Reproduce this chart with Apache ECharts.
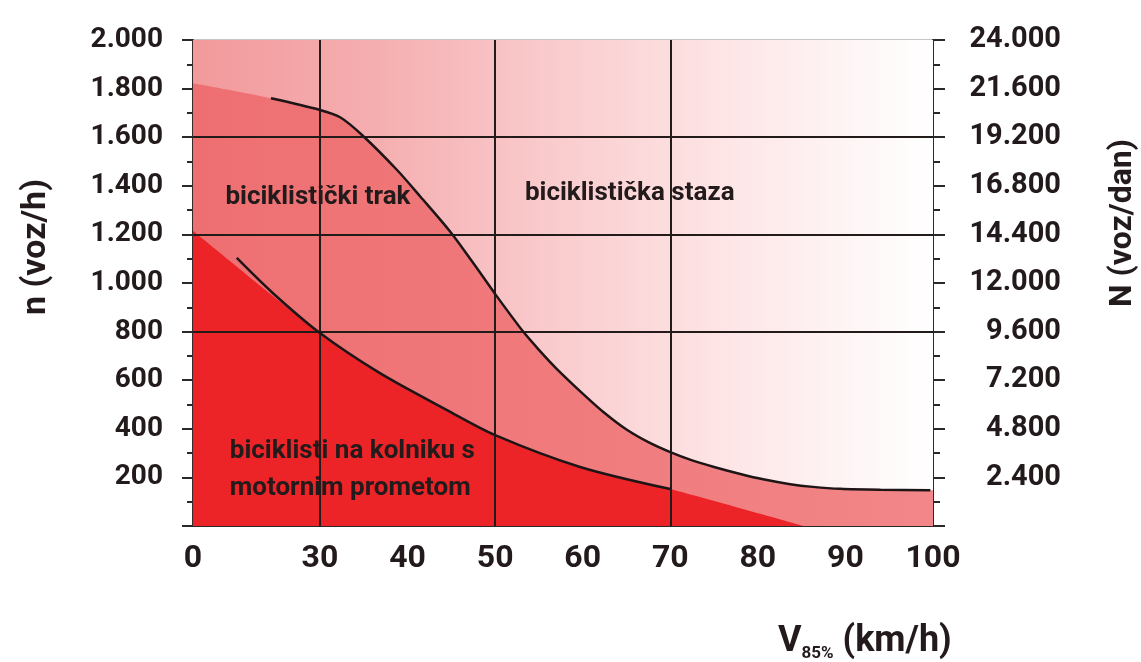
<!DOCTYPE html>
<html>
<head>
<meta charset="utf-8">
<script src="https://cdn.jsdelivr.net/npm/echarts@6/dist/echarts.min.js"></script>
<style>
html,body{margin:0;padding:0;background:#ffffff;}
#chart{width:1141px;height:662px;}
</style>
</head>
<body>
<div id="chart"></div>
<script>
// ---- data ----
const XMIN = 15.5;                 // left edge of the (broken) speed axis, labelled "0"
const xLabelValues = [XMIN, 30, 40, 50, 60, 70, 80, 90, 100];
const vGrid = [30, 50, 70];
const hGrid = [800, 1200, 1600];

// upper black curve: bicycle lane / bicycle path boundary
const upperV = [24.4, 30, 32.3, 34.8, 38.8, 41.5, 44.9, 47.5, 50, 53.2, 55, 57, 60, 62.5, 65, 67.5, 70, 72.5, 75, 78, 80.6, 83.7, 86.3, 89.4, 94, 99.7];
const upperN = [1760, 1712, 1682, 1609, 1465, 1354, 1210, 1082, 955, 800, 725, 648, 545, 465, 397, 345, 304, 270, 243, 214, 192, 172, 161, 153, 149, 147];

// lower black curve: mixed traffic / bicycle lane boundary
const lowerV = [20.5, 24.6, 30, 36.8, 44.5, 50, 59.7, 70];
const lowerN = [1103, 959, 794, 630, 477, 374, 243, 152];

// shaded zone edges
const midV = [XMIN, 19.7].concat(upperV, [100]);
const midN = [1822, 1794].concat(upperN, [147]);
const redV = [XMIN, 30, 36.8, 44.5, 50, 59.7, 70, 85.2];
const redN = [1215, 794, 630, 477, 374, 243, 152, 0];

// zone labels
const noteV = [19.2, 53.4, 19.7];
const noteN = [1350, 1370, 232];
const noteText = ['biciklistički trak', 'biciklistička staza', 'biciklisti na kolniku s\nmotornim prometom'];

const FONT = "Roboto, 'Liberation Sans', sans-serif";
const INK = '#221a1b';

function pairs(xs, ys) { return xs.map((x, i) => [x, ys[i]]); }
function dots(v) { return String(v).replace(/\B(?=(\d{3})+(?!\d))/g, '.'); }

const chart = echarts.init(document.getElementById('chart'), null, {renderer: 'canvas'});

const SMOOTH = 0.3;

const option = {
  animation: false,
  backgroundColor: '#ffffff',
  grid: {left: 193, right: 208, top: 40, bottom: 136, show: true, borderColor: '#8a8a8a', borderWidth: 1, backgroundColor: 'transparent'},
  xAxis: {
    type: 'value', min: XMIN, max: 100,
    axisLine: {show: true, onZero: false, lineStyle: {color: '#2a2a2a', width: 2}},
    axisTick: {show: false},
    splitLine: {show: false},
    axisLabel: {
      customValues: xLabelValues,
      margin: 17,
      formatter: v => (Math.abs(v - XMIN) < 1e-6 ? '0' : String(v)),
      fontFamily: FONT, fontWeight: 'bold', fontSize: 32, color: INK
    }
  },
  yAxis: [
    {
      type: 'value', min: 0, max: 2000, interval: 200, position: 'left',
      axisLine: {show: true, lineStyle: {color: '#3a2a2a', width: 2}},
      axisTick: {show: true, length: 11, lineStyle: {color: '#2a2a2a', width: 2}},
      minorTick: {show: true, splitNumber: 2, length: 6, lineStyle: {color: '#2a2a2a', width: 2}},
      splitLine: {show: false},
      axisLabel: {margin: 30, formatter: v => (v === 0 ? '' : dots(v)), fontFamily: FONT, fontWeight: 'bold', fontSize: 28, color: INK}
    },
    {
      type: 'value', min: 0, max: 24000, interval: 2400, position: 'right',
      axisLine: {show: true, lineStyle: {color: '#2a2a2a', width: 2}},
      axisTick: {show: true, length: 12, lineStyle: {color: '#2a2a2a', width: 2}},
      minorTick: {show: true, splitNumber: 2, length: 7, lineStyle: {color: '#2a2a2a', width: 2}},
      splitLine: {show: false},
      axisLabel: {margin: 128, align: 'right', formatter: v => (v === 0 ? '' : dots(v)), fontFamily: FONT, fontWeight: 'bold', fontSize: 29, color: INK}
    }
  ],
  graphic: [
    {type: 'text', x: 36, y: 247, rotation: Math.PI / 2, silent: true,
      style: {text: 'n (voz/h)', fontFamily: FONT, fontWeight: 'bold', fontSize: 34, fill: INK, align: 'center', verticalAlign: 'middle'}},
    {type: 'text', x: 1123, y: 223, rotation: Math.PI / 2, silent: true,
      style: {text: 'N (voz/dan)', fontFamily: FONT, fontWeight: 'bold', fontSize: 32, fill: INK, align: 'center', verticalAlign: 'middle'}},
    {type: 'text', x: 778, y: 642, silent: true,
      style: {text: '{v|V}{s|85%}{v| (km/h)}', verticalAlign: 'middle', align: 'left',
        rich: {
          v: {fontFamily: FONT, fontWeight: 'bold', fontSize: 36, fill: INK, lineHeight: 40},
          s: {fontFamily: FONT, fontWeight: 'bold', fontSize: 17, fill: INK, verticalAlign: 'bottom', lineHeight: 26}
        }}}
  ],
  series: [
    { // bicycle path zone (whole background)
      type: 'line', silent: true, symbol: 'none', z: 1,
      data: [[XMIN, 2000], [100, 2000]],
      lineStyle: {width: 0},
      areaStyle: {opacity: 1, color: {type: 'linear', x: 0, y: 0, x2: 1, y2: 0, colorStops: [
        {offset: 0, color: '#f29a9c'}, {offset: 0.25, color: '#f5aeb0'}, {offset: 0.45, color: '#f9c7c9'},
        {offset: 0.7, color: '#fde3e4'}, {offset: 1, color: '#ffffff'}]}}
    },
    { // bicycle lane zone
      type: 'line', silent: true, symbol: 'none', z: 2, smooth: SMOOTH,
      data: pairs(midV, midN),
      lineStyle: {width: 0},
      areaStyle: {opacity: 1, color: {type: 'linear', x: 0, y: 0, x2: 1, y2: 0, colorStops: [
        {offset: 0, color: '#ee6f71'}, {offset: 1, color: '#f28688'}]}}
    },
    { // mixed traffic zone
      type: 'line', silent: true, symbol: 'none', z: 3, smooth: SMOOTH,
      data: pairs(redV, redN),
      lineStyle: {width: 0},
      areaStyle: {opacity: 1, color: '#ec2428'}
    },
    { // grid lines
      type: 'line', silent: true, symbol: 'none', z: 4, data: [],
      markLine: {silent: true, symbol: 'none', label: {show: false},
        lineStyle: {color: '#231a1a', width: 2, type: 'solid'},
        data: vGrid.map(v => ({xAxis: v})).concat(hGrid.map(n => ({yAxis: n})))}
    },
    {
      type: 'line', silent: true, symbol: 'none', z: 5, smooth: SMOOTH,
      data: pairs(upperV, upperN),
      lineStyle: {color: '#1e1517', width: 2.5}
    },
    {
      type: 'line', silent: true, symbol: 'none', z: 5, smooth: SMOOTH,
      data: pairs(lowerV, lowerN),
      lineStyle: {color: '#1e1517', width: 2.5}
    },
    { // zone labels
      type: 'scatter', silent: true, symbolSize: 0, z: 6,
      itemStyle: {opacity: 1},
      data: noteV.map((v, i) => ({value: [v, noteN[i]], label: {formatter: noteText[i]}})),
      label: {show: true, position: [0, 0], align: 'left', verticalAlign: 'middle', opacity: 1,
        fontFamily: FONT, fontWeight: 'bold', fontSize: 26, lineHeight: 37, color: INK}
    }
  ]
};
chart.setOption(option);
</script>
</body>
</html>
